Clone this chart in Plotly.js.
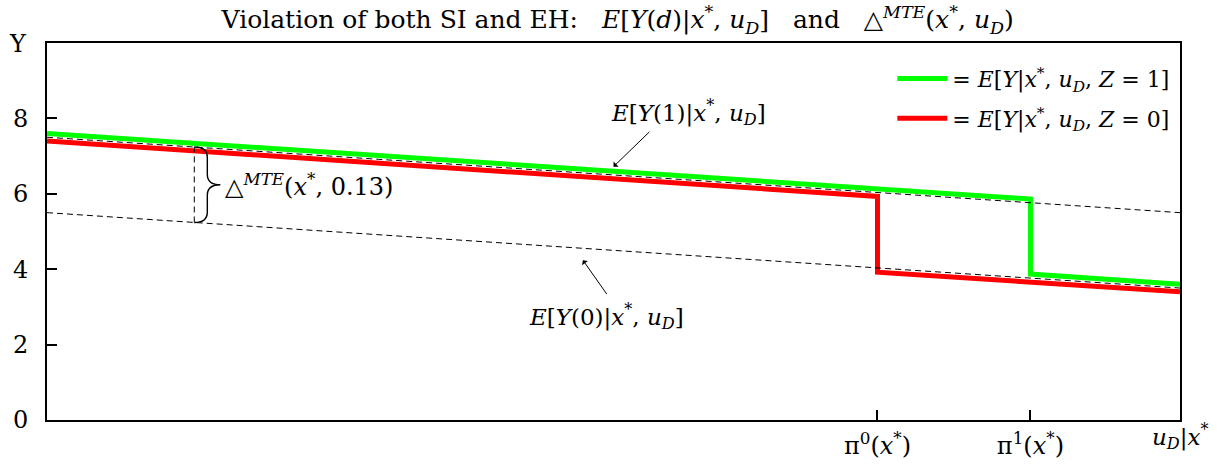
<!DOCTYPE html>
<html>
<head>
<meta charset="utf-8">
<script src="https://cdn.plot.ly/plotly-3.0.1.min.js"></script>
<style>html,body{margin:0;padding:0;background:#fff;}#chart{width:1228px;height:468px;}</style>
</head>
<body>
<div id="chart"></div>
<script>
// ---- data ----
const pi0 = 0.733;              // π0(x*)
const pi1 = 0.868;              // π1(x*)
const uD_Z1 = [0, pi1, pi1, 1];
const Y_Z1  = [7.6, 5.86, 3.87, 3.6];
const uD_Z0 = [0, pi0, pi0, 1];
const Y_Z0  = [7.4, 5.93, 3.92, 3.4];
const uD_pot = [0, 1];
const EY1 = [7.5, 5.5];
const EY0 = [5.5, 3.5];
const uMTE = [0.13, 0.13];
const yMTE = [5.24, 7.24];
const xTickVals = [pi0, pi1];
const xTickText = ['π<sup>0</sup>(<i>x</i><sup>*</sup>)', 'π<sup>1</sup>(<i>x</i><sup>*</sup>)'];
const yTickVals = [0, 2, 4, 6, 8];

const FONT = 'DejaVu Serif, Liberation Serif, serif';
const NB = '\u00a0';

const traces = [
  {x: uD_Z1, y: Y_Z1, mode: 'lines', line: {color: '#00ff00', width: 5}, legend: 'legend',
   name: '= <i>E</i>[<i>Y</i>|<i>x</i><sup>*</sup>, <i>u<sub>D</sub></i>, <i>Z</i> = 1]'},
  {x: uD_Z0, y: Y_Z0, mode: 'lines', line: {color: '#ff0000', width: 5}, legend: 'legend2',
   name: '= <i>E</i>[<i>Y</i>|<i>x</i><sup>*</sup>, <i>u<sub>D</sub></i>, <i>Z</i> = 0]'},
  {x: uD_pot, y: EY1, mode: 'lines', line: {color: '#000', width: 1, dash: '6px,4px'}, showlegend: false},
  {x: uD_pot, y: EY0, mode: 'lines', line: {color: '#000', width: 1, dash: '6px,4px'}, showlegend: false},
  {x: uMTE, y: yMTE, mode: 'lines', line: {color: '#000', width: 1, dash: '6px,4px'}, showlegend: false}
];

// curly brace built from the MTE segment
const bx = uMTE[0], bw = 0.023;
const yB = yMTE[0], yT = yMTE[1], yM = (yB + yT) / 2, d = 0.28;
const xm = bx + bw / 2, xe = bx + bw;
const bracePath = `M ${bx},${yT} Q ${xm},${yT} ${xm},${yT - d} L ${xm},${yM + d} Q ${xm},${yM} ${xe},${yM} ` +
                  `Q ${xm},${yM} ${xm},${yM - d} L ${xm},${yB + d} Q ${xm},${yB} ${bx},${yB}`;

const legendCommon = {
  x: 0.995, xanchor: 'right', yanchor: 'middle',
  bgcolor: 'rgba(0,0,0,0)', borderwidth: 0,
  font: {family: FONT, size: 22}, itemwidth: 50
};

const layout = {
  width: 1228, height: 468,
  margin: {l: 47, r: 48, t: 43, b: 48},
  paper_bgcolor: '#fff', plot_bgcolor: '#fff',
  font: {family: FONT, size: 22, color: '#000'},
  title: {
    text: 'Violation of both SI and EH:' + NB + NB + NB + '<i>E</i>[<i>Y</i>(<i>d</i>)|<i>x</i><sup>*</sup>, <i>u<sub>D</sub></i>]' + NB + NB + NB + 'and' + NB + NB + NB +
          '△<sup><i>MTE</i></sup>(<i>x</i><sup>*</sup>, <i>u<sub>D</sub></i>)',
    font: {family: FONT, size: 25, color: '#000'},
    x: 0.503, xanchor: 'center', y: 0.958, yanchor: 'middle'
  },
  xaxis: {
    range: [0, 1], showgrid: false, zeroline: false,
    showline: true, linecolor: '#000', linewidth: 2, mirror: true,
    ticks: 'inside', ticklen: 10, tickwidth: 2, tickcolor: '#000',
    tickvals: xTickVals, ticktext: xTickText,
    tickfont: {family: FONT, size: 24}, ticklabelstandoff: 3
  },
  yaxis: {
    range: [0, 10], showgrid: false, zeroline: false,
    showline: true, linecolor: '#000', linewidth: 2, mirror: true,
    ticks: 'inside', ticklen: 10, tickwidth: 2, tickcolor: '#000',
    tickvals: yTickVals, tickfont: {family: FONT, size: 24}, ticklabelstandoff: 12
  },
  showlegend: true,
  legend: Object.assign({}, legendCommon, {y: 0.905}),
  legend2: Object.assign({}, legendCommon, {y: 0.80}),
  shapes: [
    {type: 'path', xref: 'x', yref: 'y', path: bracePath, line: {color: '#000', width: 1.4}}
  ],
  annotations: [
    {xref: 'paper', yref: 'paper', x: -0.026, y: 0.997, text: 'Y', showarrow: false,
     font: {family: FONT, size: 24}, xanchor: 'center', yanchor: 'middle'},
    {xref: 'paper', yref: 'paper', x: 1.0, y: -0.045, text: '<i>u<sub>D</sub></i>|<i>x</i><sup>*</sup>', showarrow: false,
     font: {family: FONT, size: 23}, xanchor: 'center', yanchor: 'middle'},
    {xref: 'x', yref: 'y', x: xe + 0.002, y: yM, text: '△<sup><i>MTE</i></sup>(<i>x</i><sup>*</sup>, 0.13)', showarrow: false,
     font: {family: FONT, size: 24}, xanchor: 'left', yanchor: 'middle'},
    {xref: 'x', yref: 'y', x: 0.566, y: 8.16, text: '<i>E</i>[<i>Y</i>(1)|<i>x</i><sup>*</sup>, <i>u<sub>D</sub></i>]', showarrow: false,
     font: {family: FONT, size: 23}, xanchor: 'center', yanchor: 'middle'},
    {xref: 'x', yref: 'y', x: 0.500, y: 6.72, ax: 0.533, ay: 7.68, axref: 'x', ayref: 'y', text: '', showarrow: true,
     arrowhead: 1, arrowsize: 1.2, arrowwidth: 1, arrowcolor: '#000'},
    {xref: 'x', yref: 'y', x: 0.494, y: 2.75, text: '<i>E</i>[<i>Y</i>(0)|<i>x</i><sup>*</sup>, <i>u<sub>D</sub></i>]', showarrow: false,
     font: {family: FONT, size: 23}, xanchor: 'center', yanchor: 'middle'},
    {xref: 'x', yref: 'y', x: 0.473, y: 4.24, ax: 0.495, ay: 3.3, axref: 'x', ayref: 'y', text: '', showarrow: true,
     arrowhead: 1, arrowsize: 1.2, arrowwidth: 1, arrowcolor: '#000'}
  ]
};

Plotly.newPlot('chart', traces, layout, {displayModeBar: false, staticPlot: true});
</script>
</body>
</html>
